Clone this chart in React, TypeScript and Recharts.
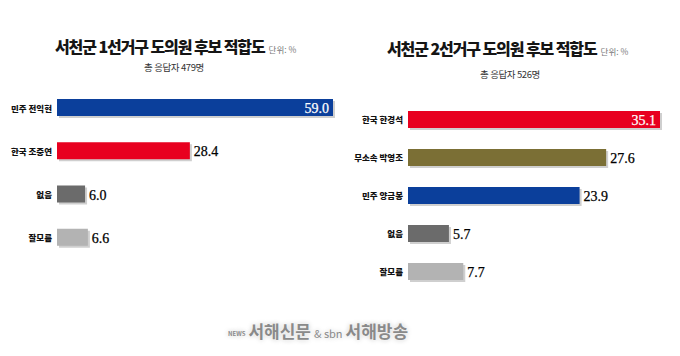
import React from "react";
import { BarChart, Bar, XAxis, YAxis, Cell, LabelList } from "recharts";

// 1선거구
const district1Names = ["민주 전익현", "한국 조중연", "없음", "잘모름"];
const district1Values = [59.0, 28.4, 6.0, 6.6];
const district1Respondents = 479;

// 2선거구
const district2Names = ["한국 한경석", "무소속 박영조", "민주 양금봉", "없음", "잘모름"];
const district2Values = [35.1, 27.6, 23.9, 5.7, 7.7];
const district2Respondents = 526;

const COLORS1 = ["#0b3f9b", "#e8001f", "#6b6b6b", "#b3b3b3"];
const COLORS2 = ["#e8001f", "#7b6f35", "#0b3f9b", "#6b6b6b", "#b3b3b3"];

const FONT = '"Noto Sans CJK KR", "Noto Sans", sans-serif';

const toRows = (names: string[], values: number[]) =>
  names.map((name, i) => ({ name, value: values[i] }));

// bar with a small drop shadow like the original graphic
const ShadowBar = (props: any) => {
  const { x, y, width, height, fill } = props;
  if (width <= 0) return null;
  return (
    <g>
      <rect x={x + 2} y={y + 2} width={width} height={height} fill="#cfcfcf" />
      <rect x={x} y={y} width={width} height={height} fill={fill} />
    </g>
  );
};

// single-line tick so names like "민주 전익현" don't wrap
const NameTick = (props: any) => {
  const { x, y, payload } = props;
  return (
    <text
      x={x}
      y={y}
      textAnchor="end"
      dominantBaseline="central"
      fill="#111"
      fontSize={8.5}
      fontWeight={900}
      fontFamily={FONT}
    >
      {payload.value}
    </text>
  );
};

const makeValueLabel = (maxValue: number) => (props: any) => {
  const { x, y, width, height, value } = props;
  const inside = value === maxValue;
  return (
    <text
      x={inside ? x + width - 4 : x + width + 4}
      y={y + height / 2 + 1}
      textAnchor={inside ? "end" : "start"}
      dominantBaseline="central"
      fill={inside ? "#ffffff" : "#000000"}
      stroke={inside ? "#ffffff" : "#000000"}
      strokeWidth={0.25}
      fontFamily='"Liberation Serif", "DejaVu Serif", serif'
      fontSize={14}
    >
      {Number(value).toFixed(1)}
    </text>
  );
};

interface PanelProps {
  names: string[];
  values: number[];
  colors: string[];
  width: number;
  height: number;
  axisWidth: number;
  rightMargin: number;
}

const Panel: React.FC<PanelProps> = ({ names, values, colors, width, height, axisWidth, rightMargin }) => {
  const rows = toRows(names, values);
  const maxValue = Math.max(...values);
  return (
    <BarChart
      width={width}
      height={height}
      data={rows}
      layout="vertical"
      margin={{ top: 0, right: rightMargin, bottom: 0, left: 0 }}
      barSize={17}
    >
      <XAxis type="number" hide domain={[0, "dataMax"]} />
      <YAxis
        type="category"
        dataKey="name"
        width={axisWidth}
        axisLine={false}
        tickLine={false}
        tickSize={3}
        tickMargin={2}
        interval={0}
        tick={<NameTick />}
      />
      <Bar dataKey="value" isAnimationActive={false} shape={ShadowBar}>
        {rows.map((_, i) => (
          <Cell key={`cell-${i}`} fill={colors[i % colors.length]} />
        ))}
        <LabelList dataKey="value" content={makeValueLabel(maxValue)} />
      </Bar>
    </BarChart>
  );
};

const Title = ({ text, left, top }: { text: string; left: number; top: number }) => (
  <div
    style={{
      position: "absolute",
      left,
      top,
      whiteSpace: "nowrap",
      fontFamily: FONT,
      fontWeight: 900,
      fontSize: 16,
      letterSpacing: -1.1,
      color: "#151515",
      lineHeight: "20px",
    }}
  >
    {text}
    <span style={{ fontSize: 8.5, fontWeight: 400, letterSpacing: 0, color: "#777", marginLeft: 4 }}>
      단위: %
    </span>
  </div>
);

const Subtitle = ({ text, center, top }: { text: string; center: number; top: number }) => (
  <div
    style={{
      position: "absolute",
      left: center - 60,
      width: 120,
      top,
      textAlign: "center",
      fontFamily: FONT,
      fontSize: 9.5,
      color: "#333",
      letterSpacing: -0.4,
      lineHeight: "12px",
    }}
  >
    {text}
  </div>
);

export default function App() {
  return (
    <div
      style={{
        position: "absolute",
        left: 0,
        top: 0,
        width: 680,
        height: 356,
        background: "#ffffff",
        overflow: "hidden",
        fontFamily: FONT,
      }}
    >
      <Title text="서천군 1선거구 도의원 후보 적합도" left={55} top={36} />
      <Subtitle text={`총 응답자 ${district1Respondents}명`} center={174} top={61} />
      <Title text="서천군 2선거구 도의원 후보 적합도" left={387} top={38} />
      <Subtitle text={`총 응답자 ${district2Respondents}명`} center={510} top={68} />

      <div style={{ position: "absolute", left: 0, top: 86 }}>
        <Panel
          names={district1Names}
          values={district1Values}
          colors={COLORS1}
          width={340}
          height={173}
          axisWidth={57}
          rightMargin={7}
        />
      </div>
      <div style={{ position: "absolute", left: 340, top: 100 }}>
        <Panel
          names={district2Names}
          values={district2Values}
          colors={COLORS2}
          width={340}
          height={190}
          axisWidth={68}
          rightMargin={20}
        />
      </div>

      <div
        style={{
          position: "absolute",
          left: 228,
          top: 318,
          whiteSpace: "nowrap",
          fontFamily: FONT,
          fontWeight: 700,
          fontSize: 17,
          color: "#8a8a8a",
          letterSpacing: 0,
          textShadow: "0 0 3px #ffffff, 0 0 5px #bbbbbb",
        }}
      >
        <span style={{ fontSize: 6, verticalAlign: "middle", marginRight: 3 }}>NEWS</span>
        서해신문
        <span style={{ fontSize: 11, fontWeight: 400, margin: "0 3px" }}>&amp; sbn</span>
        서해방송
      </div>
    </div>
  );
}
